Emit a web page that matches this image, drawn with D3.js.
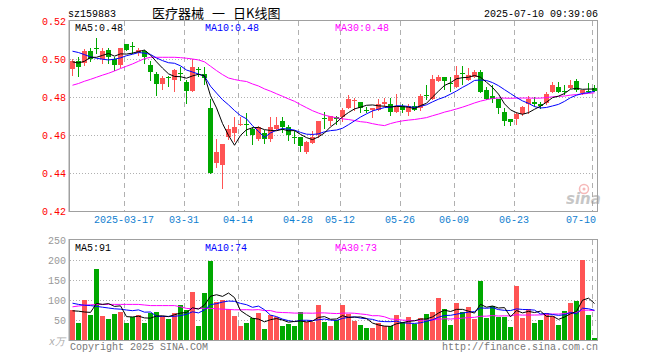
<!DOCTYPE html>
<html><head><meta charset="utf-8">
<script src="https://cdn.jsdelivr.net/npm/d3@7/dist/d3.min.js"></script>
<style>
html,body{margin:0;padding:0;background:#fff;}
svg{display:block;}
text{font-family:"Liberation Mono","DejaVu Sans Mono",monospace;font-size:10px;}
</style></head>
<body>
<svg id="c" width="660" height="360"></svg>
<script>
// ---------------- data ----------------
const dates = ["03-04","03-05","03-06","03-07","03-10","03-11","03-12","03-13","03-14","03-17","03-18","03-19","03-20","03-21","03-24","03-25","03-26","03-27","03-28","03-31",
"04-01","04-02","04-03","04-07","04-08","04-09","04-10","04-11","04-14","04-15","04-16","04-17","04-18","04-21","04-22","04-23","04-24","04-25","04-28","04-29","04-30",
"05-06","05-07","05-08","05-09","05-12","05-13","05-14","05-15","05-16","05-19","05-20","05-21","05-22","05-23","05-26","05-27","05-28","05-29","05-30",
"06-03","06-04","06-05","06-06","06-09","06-10","06-11","06-12","06-13","06-16","06-17","06-18","06-19","06-20","06-23","06-24","06-25","06-26","06-27","06-30",
"07-01","07-02","07-03","07-04","07-07","07-08","07-09","07-10"];
const opens = [0.495,0.499,0.498,0.504,0.506,0.500,0.505,0.500,0.497,0.508,0.507,0.503,0.504,0.497,0.492,0.487,0.4905,0.489,0.4927,0.488,
0.483,0.4945,0.492,0.474,0.445,0.444,0.459,0.461,0.4658,0.466,0.4634,0.458,0.461,0.458,0.4634,0.4672,0.464,0.4589,0.4589,0.451,0.456,
0.4599,0.4692,0.4676,0.4694,0.4694,0.4743,0.4783,0.4774,0.4734,0.4729,0.4729,0.4764,0.4764,0.4722,0.4751,0.4722,0.4751,0.4743,0.4813,
0.479,0.4886,0.4906,0.4875,0.4853,0.4925,0.4892,0.4906,0.4932,0.4839,0.4804,0.4787,0.4722,0.4686,0.4686,0.4711,0.4764,0.4774,0.4764,0.4769,
0.4827,0.4851,0.4834,0.4848,0.4886,0.4823,0.4834,0.4848];
const highs = [0.5002,0.501,0.5055,0.506,0.511,0.506,0.506,0.501,0.506,0.508,0.509,0.506,0.505,0.499,0.493,0.491,0.491,0.495,0.496,0.489,
0.500,0.496,0.496,0.479,0.458,0.455,0.465,0.4695,0.4695,0.4716,0.464,0.4645,0.4628,0.4693,0.4695,0.4695,0.465,0.462,0.459,0.457,0.462,
0.4672,0.472,0.4699,0.470,0.4743,0.481,0.4795,0.4774,0.475,0.4743,0.4787,0.4795,0.4795,0.4816,0.4764,0.4764,0.4774,0.4816,0.4865,
0.4918,0.4918,0.4906,0.4906,0.4962,0.4962,0.4953,0.4944,0.4944,0.4851,0.4865,0.4787,0.4743,0.4686,0.4722,0.4751,0.4804,0.4799,0.4774,0.4827,
0.4879,0.4879,0.4865,0.489,0.4897,0.4839,0.4874,0.4865];
const lows = [0.4914,0.491,0.497,0.499,0.503,0.498,0.498,0.494,0.496,0.505,0.503,0.502,0.498,0.489,0.481,0.484,0.486,0.483,0.489,0.477,
0.483,0.491,0.487,0.440,0.443,0.432,0.458,0.457,0.465,0.4598,0.455,0.4576,0.456,0.457,0.463,0.4617,0.4576,0.456,0.4518,0.4506,0.456,
0.459,0.4637,0.465,0.466,0.4676,0.474,0.4734,0.472,0.472,0.4695,0.4729,0.4751,0.4707,0.4722,0.4722,0.4707,0.4729,0.4729,0.4787,
0.479,0.4886,0.484,0.483,0.4853,0.487,0.489,0.4906,0.4827,0.4787,0.4774,0.4716,0.465,0.465,0.4658,0.4704,0.4716,0.4751,0.4743,0.4764,
0.4827,0.4827,0.4816,0.4848,0.483,0.4816,0.4827,0.4834];
const closes = [0.499,0.496,0.504,0.500,0.5055,0.504,0.501,0.497,0.506,0.505,0.5065,0.505,0.501,0.493,0.487,0.490,0.490,0.494,0.4925,0.483,
0.496,0.4943,0.490,0.440,0.451,0.455,0.463,0.464,0.466,0.4658,0.4602,0.464,0.458,0.464,0.465,0.464,0.460,0.4587,0.454,0.4564,0.4588,
0.4672,0.469,0.4699,0.4682,0.4734,0.4787,0.4785,0.4743,0.4733,0.4743,0.4764,0.4774,0.4722,0.4751,0.4734,0.4751,0.4734,0.4804,0.4812,
0.4897,0.4906,0.4886,0.4874,0.4918,0.4924,0.4918,0.4932,0.4827,0.4787,0.4787,0.4743,0.4676,0.4669,0.4711,0.4746,0.4787,0.4764,0.4751,0.4816,
0.4865,0.4827,0.4833,0.4865,0.4839,0.4839,0.4833,0.4834];
const volumes = [74,43,100,63,178,61,53,65,70,43,57,63,43,67,70,59,53,67,88,75,
120,36,118,198,94,99,78,61,36,43,54,67,27,63,57,36,40,36,69,45,46,
87,45,36,49,87,66,48,38,30,30,42,34,34,63,44,58,41,55,65,
70,106,77,38,92,70,83,53,148,56,85,58,58,33,134,56,77,43,51,68,
59,37,72,92,97,199,63,5];
// moving-average values before a full window is available
const ma5Head = [0.4985,0.4979,0.4988,0.5009];
const ma10Head = [0.5041,0.5034,0.5023,0.5011,0.5004,0.4999,0.4995,0.4999,0.5006];
const ma30Head = [0.4862,0.4871,0.4883,0.4893,0.4904,0.4915,0.4925,0.4937,0.4950,0.4962,0.4974,0.4988,0.5002,0.5009,0.5009,0.5009,0.5009,0.5009,0.5007,0.5004,0.5000,0.4995,0.4985,0.4962,0.4939,0.4918,0.4900,0.4892,0.4886];
const vma5Head = [73,72,70,69];
const vma10Head = [92,89,87,86,84,82,80,78,77];
const vma30Head = [83,85,87,88,88.5,89,89,89,89,89,89,89,87.5,86,86,86,86,86,83,79,78,79,79,79,78,77,76.5,75.5,75.5];
const priceTicks = [0.42,0.44,0.46,0.48,0.50,0.52];
const volTicks = [50,100,150,200,250];
const dateTicks = ["03-17","03-31","04-14","04-28","05-12","05-26","06-09","06-23","07-10"];
const dateTickLabels = ["2025-03-17","03-31","04-14","04-28","05-12","05-26","06-09","06-23","07-10"];

// ---------------- layout ----------------
const L = 70, R = 598, PT = 21, PB = 211, VT = 240, VB = 340;
const RED = "#ff5454", GREEN = "#00a800", GRID = "#b0b0b0", FRAME = "#a0a0a0";

const svg = d3.select("#c");
const x = d3.scaleBand().domain(dates).range([L, R]).padding(0);
const bw = x.bandwidth();
const yP = d3.scaleLinear().domain([0.42, 0.52]).range([PB, PT]);
const yV = d3.scaleLinear().domain([0, 250]).range([VB, VT]);

const data = dates.map((d, i) => ({d, o: opens[i], h: highs[i], l: lows[i], c: closes[i], v: volumes[i]}));
function movingAvg(vals, n, head) {
  return vals.map((v, i) => i < n - 1 ? head[i] : d3.mean(vals.slice(i - n + 1, i + 1)));
}
const ma5 = movingAvg(closes, 5, ma5Head), ma10 = movingAvg(closes, 10, ma10Head), ma30 = movingAvg(closes, 30, ma30Head);
const vma5 = movingAvg(volumes, 5, vma5Head), vma10 = movingAvg(volumes, 10, vma10Head), vma30 = movingAvg(volumes, 30, vma30Head);

// ---------------- header ----------------
svg.append("text").attr("x", 68).attr("y", 17).text("sz159883");
const title = svg.append("text").attr("x", 152).attr("y", 18)
  .style("font-family", '"Noto Sans CJK SC",sans-serif').style("font-size", "13px");
title.append("tspan").text("医疗器械");
title.append("tspan").attr("dx", 8).text("一");
title.append("tspan").attr("dx", 8).text("日K线图");
svg.append("text").attr("x", 598).attr("y", 17).attr("text-anchor", "end").text("2025-07-10 09:39:06");

// ---------------- grids ----------------
const grid = svg.append("g");
grid.selectAll(".hp").data(priceTicks.slice(1, -1)).join("line")
  .attr("x1", L).attr("x2", R - 1).attr("y1", d => Math.round(yP(d)) + 0.5).attr("y2", d => Math.round(yP(d)) + 0.5)
  .attr("stroke", GRID).attr("stroke-dasharray", "1,2");
grid.selectAll(".hv").data(volTicks.slice(0, -1)).join("line")
  .attr("x1", L).attr("x2", R - 1).attr("y1", d => Math.round(yV(d)) + 0.5).attr("y2", d => Math.round(yV(d)) + 0.5)
  .attr("stroke", GRID).attr("stroke-dasharray", "1,2");
[[PT, PB], [VT, VB]].forEach(([t, b]) => {
  grid.append("g").selectAll("line").data(dateTicks).join("line")
    .attr("x1", d => x(d) + 0.5).attr("x2", d => x(d) + 0.5).attr("y1", t).attr("y2", b)
    .attr("stroke", GRID).attr("stroke-dasharray", "5,4");
});

// ---------------- axes ----------------
const ay = svg.append("g").attr("transform", `translate(66,0)`)
  .call(d3.axisLeft(yP).tickValues(priceTicks).tickSize(0).tickPadding(0).tickFormat(d3.format(".2f")));
ay.select(".domain").remove();
ay.selectAll("text").attr("fill", "#f00").style("font-family", '"Liberation Mono",monospace').style("font-size", "10px");

const av = svg.append("g").attr("transform", `translate(66,0)`)
  .call(d3.axisLeft(yV).tickValues(volTicks).tickSize(0).tickPadding(0));
av.select(".domain").remove();
av.selectAll("text").attr("fill", "#999").style("font-family", '"Liberation Mono",monospace').style("font-size", "10px");

const ax = svg.append("g").attr("transform", `translate(${-bw / 2},${PB + 5})`)
  .call(d3.axisBottom(x).tickValues(dateTicks).tickSize(0).tickPadding(0)
    .tickFormat(d => dateTickLabels[dateTicks.indexOf(d)]));
ax.select(".domain").remove();
ax.selectAll("text").attr("fill", "#1080d0").style("font-family", '"Liberation Mono",monospace').style("font-size", "10px");
// the last label is kept inside the frame: right-aligned on its gridline
ax.selectAll("text").filter(d => d === dateTicks[dateTicks.length - 1]).attr("text-anchor", "end").attr("dx", bw / 2 + 1);

svg.append("text").attr("x", 49).attr("y", 345).attr("fill", "#aaa").style("font-style", "italic").text("x万");

// ---------------- watermark ----------------
const wm = svg.append("g").attr("opacity", 0.55);
wm.append("circle").attr("cx", 584).attr("cy", 189).attr("r", 4.5).attr("fill", "none").attr("stroke", "#f08080").attr("stroke-width", 1.5);
wm.append("circle").attr("cx", 584).attr("cy", 189).attr("r", 1.5).attr("fill", "#f08080");
wm.append("text").attr("x", 566).attr("y", 204).attr("fill", "#999")
  .style("font-family", '"DejaVu Sans",sans-serif').style("font-size", "15px").style("font-weight", "bold").style("font-style", "italic").text("sina");

// ---------------- candles ----------------
const up = d => d.c >= d.o;
const cg = svg.append("g");
cg.selectAll(".wick").data(data).join("line")
  .attr("x1", d => x(d.d) + 2.5).attr("x2", d => x(d.d) + 2.5)
  .attr("y1", d => Math.round(yP(d.h))).attr("y2", d => Math.round(yP(d.l)) + 1)
  .attr("stroke", d => up(d) ? RED : GREEN);
cg.selectAll(".body").data(data).join("rect")
  .attr("x", d => x(d.d)).attr("width", 5)
  .attr("y", d => Math.round(yP(Math.max(d.o, d.c))))
  .attr("height", d => Math.max(1, Math.round(yP(Math.min(d.o, d.c))) - Math.round(yP(Math.max(d.o, d.c)))))
  .attr("fill", d => up(d) ? RED : GREEN);

// volume bars
svg.append("g").selectAll("rect").data(data).join("rect")
  .attr("x", d => x(d.d)).attr("width", 5)
  .attr("y", d => Math.round(yV(d.v))).attr("height", d => VB - Math.round(yV(d.v)))
  .attr("fill", d => up(d) ? RED : GREEN);

// ---------------- MA lines ----------------
function maLine(vals, yScale, color) {
  const line = d3.line().x((v, i) => x(dates[i]) + 2.5).y(v => yScale(v));
  svg.append("path").attr("d", line(vals)).attr("fill", "none").attr("stroke", color).attr("stroke-width", 1);
}
maLine(ma30, yP, "#ff00ff"); maLine(ma10, yP, "#0000ff"); maLine(ma5, yP, "#000");
maLine(vma30, yV, "#ff00ff"); maLine(vma10, yV, "#0000ff"); maLine(vma5, yV, "#000");

// ---------------- frames ----------------
[[PT, PB], [VT, VB]].forEach(([t, b]) => {
  svg.append("rect").attr("x", L - 0.5).attr("y", t - 0.5).attr("width", R - L).attr("height", b - t + 1)
    .attr("fill", "none").attr("stroke", FRAME);
  svg.append("line").attr("x1", L - 1).attr("x2", L - 1).attr("y1", t - 1).attr("y2", b + 1).attr("stroke", FRAME);
});

// ---------------- legends ----------------
const f2 = d3.format(".2f");
const lx = [75, 205, 335], lc = ["#000", "#0000ff", "#ff00ff"];
[["MA5:", ma5], ["MA10:", ma10], ["MA30:", ma30]].forEach(([n, a], k) =>
  svg.append("text").attr("x", lx[k]).attr("y", 31).attr("fill", lc[k]).text(n + f2(a[a.length - 1])));
[["MA5:", vma5], ["MA10:", vma10], ["MA30:", vma30]].forEach(([n, a], k) =>
  svg.append("text").attr("x", lx[k]).attr("y", 251).attr("fill", lc[k]).text(n + Math.round(a[a.length - 1])));

// footer
svg.append("text").attr("x", 70).attr("y", 350).attr("fill", "#777").text("Copyright 2025 SINA.COM");
svg.append("text").attr("x", 598).attr("y", 350).attr("text-anchor", "end").attr("fill", "#777").text("http://finance.sina.com.cn");
</script>
</body></html>
